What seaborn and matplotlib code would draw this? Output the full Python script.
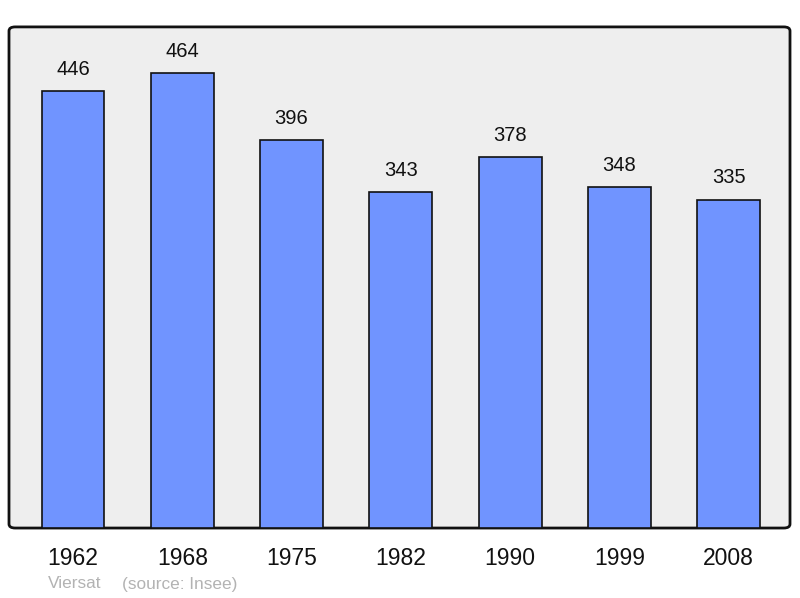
import matplotlib
matplotlib.use("Agg")
import matplotlib.pyplot as plt
import seaborn as sns
import pandas as pd
from matplotlib.patches import FancyBboxPatch

# DATA
years = ["1962", "1968", "1975", "1982", "1990", "1999", "2008"]
population = [446, 464, 396, 343, 378, 348, 335]

df = pd.DataFrame({"Year": years, "Population": population})

sns.set_style("white")
plt.rcParams["font.family"] = ["Liberation Sans", "DejaVu Sans"]

fig = plt.figure(figsize=(8, 5.98), dpi=100)
ax = fig.add_axes([0.01125, 0.117, 0.97625, 0.838])

# rounded background frame
ax.set_facecolor("none")
frame = FancyBboxPatch(
    (0, 0), 1, 1,
    boxstyle="round,pad=0,rounding_size=0.008",
    transform=ax.transAxes,
    facecolor="#eeeeee",
    edgecolor="#111111",
    linewidth=2,
    zorder=0,
    clip_on=False,
)
ax.add_patch(frame)

sns.barplot(
    data=df,
    x="Year",
    y="Population",
    color="#7094ff",
    saturation=1,
    width=0.575,
    edgecolor="#111111",
    linewidth=1.2,
    ax=ax,
    zorder=2,
)

for i, v in enumerate(population):
    ax.text(i, v + 22, str(v), ha="center", va="center",
            fontsize=14.5, color="#111111")

ax.set_xlim(-0.585, 6.56)
ax.set_ylim(0, 511)
ax.set_xlabel("")
ax.set_ylabel("")
ax.set_yticks([])
ax.tick_params(axis="x", length=0, pad=14, labelsize=16.5, labelcolor="#111111")
for s in ax.spines.values():
    s.set_visible(False)

fig.text(48 / 800, 1 - 584 / 598, "Viersat", color="#b3b3b3",
         fontsize=12.4, ha="left", va="center")
fig.text(122 / 800, 1 - 584 / 598, "(source: Insee)", color="#b3b3b3",
         fontsize=12.4, ha="left", va="center")

fig.savefig("out.png", dpi=100)
